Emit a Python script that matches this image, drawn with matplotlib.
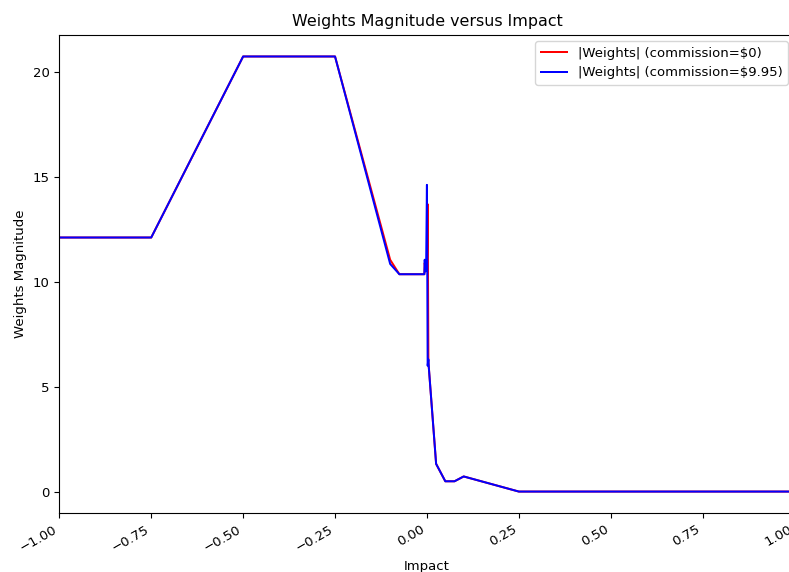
import numpy as np
import matplotlib
matplotlib.use("Agg")
from matplotlib import pyplot as plt

# impact values (x) shared by both series
impact = [-1.0, -0.75, -0.5, -0.25, -0.1, -0.075, -0.007, -0.006, -0.004, -0.002,
          0.0, 0.002, 0.004, 0.005, 0.025, 0.05, 0.075, 0.1, 0.25, 1.0]

# |weights| with commission = $0
weights_free = [12.11, 12.11, 20.74, 20.74, 11.05, 10.36, 10.36, 10.9, 10.5, 10.9,
                10.8, 13.7, 6.2, 5.95, 1.32, 0.49, 0.49, 0.72, 0.0, 0.0]

# |weights| with commission = $9.95
weights_comm = [12.11, 12.11, 20.74, 20.74, 10.85, 10.36, 10.36, 11.05, 10.5, 11.0,
                14.62, 6.0, 6.3, 5.95, 1.32, 0.49, 0.49, 0.72, 0.0, 0.0]

# the original looks like it was saved a little smaller, so scale text a bit
s = 0.955
plt.rcParams['font.size'] = 10 * s
plt.rcParams['axes.titlesize'] = 12 * s
plt.rcParams['xtick.major.size'] = 3.5 * s
plt.rcParams['ytick.major.size'] = 3.5 * s
plt.rcParams['lines.linewidth'] = 1.5 * s

fig = plt.figure(figsize=(7.89, 5.72), dpi=100)
ax = fig.add_subplot(111)

ax.plot(impact, weights_free, color='r', label='|Weights| (commission=$0)')
ax.plot(impact, weights_comm, color='b', label='|Weights| (commission=$9.95)')

ax.set_xlim(-1, 1)
ax.set_title('Weights Magnitude versus Impact')
ax.set_xlabel('Impact')
ax.set_ylabel('Weights Magnitude')
ax.legend(loc='upper right')

fig.autofmt_xdate()
# axes runs slightly past the right edge, like the cropped original
ax.set_position([0.0752, 0.1026, 0.9318, 0.8367])

fig.savefig('out.png', dpi=100)
